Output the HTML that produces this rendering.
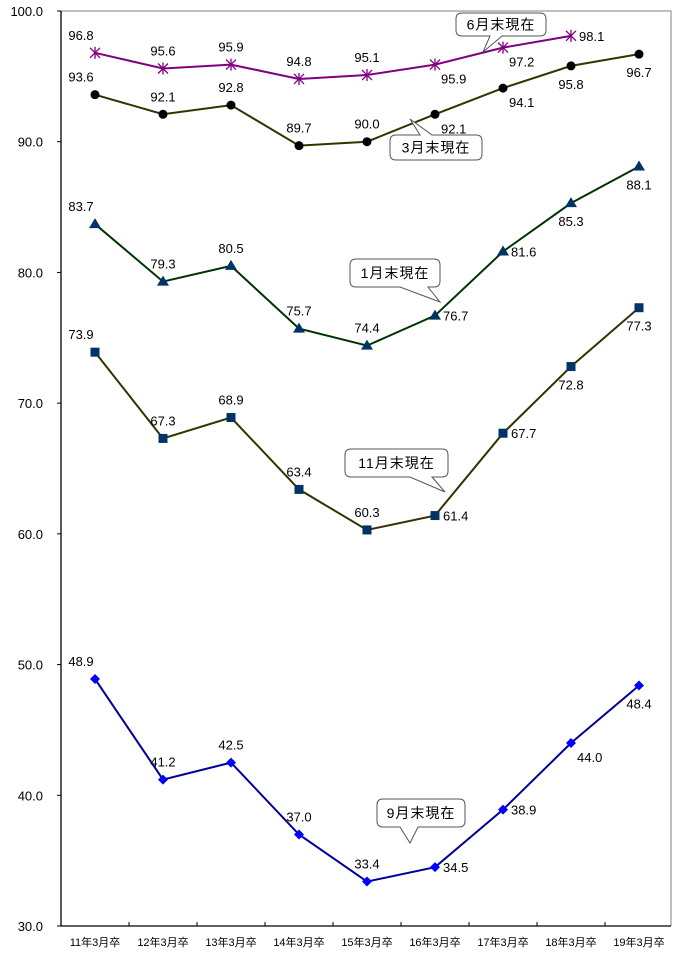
<!DOCTYPE html>
<html><head><meta charset="utf-8">
<style>
html,body{margin:0;padding:0;background:#fff;width:673px;height:958px;overflow:hidden}
svg{display:block}
text{font-family:"Liberation Sans","Noto Sans CJK JP",sans-serif;font-size:13px;fill:#000}
</style></head>
<body>
<svg id="chart" width="673" height="958"></svg>
<script>
const categories = ["11年3月卒","12年3月卒","13年3月卒","14年3月卒","15年3月卒","16年3月卒","17年3月卒","18年3月卒","19年3月卒"];
const yTicks = [30,40,50,60,70,80,90,100];
const juneValues = [96.8,95.6,95.9,94.8,95.1,95.9,97.2,98.1];
const marchValues = [93.6,92.1,92.8,89.7,90.0,92.1,94.1,95.8,96.7];
const janValues = [83.7,79.3,80.5,75.7,74.4,76.7,81.6,85.3,88.1];
const novValues = [73.9,67.3,68.9,63.4,60.3,61.4,67.7,72.8,77.3];
const sepValues = [48.9,41.2,42.5,37.0,33.4,34.5,38.9,44.0,48.4];

const NS="http://www.w3.org/2000/svg";
const svg=document.getElementById('chart');
const L=61,R=671,T=11,B=926,step=68;
const x=i=>L+step*(i+0.5);
const y=v=>B-(v-30)/70*(B-T);
function mk(tag,attrs,parent){const e=document.createElementNS(NS,tag);for(const k in attrs)e.setAttribute(k,attrs[k]);(parent||svg).appendChild(e);return e;}

const frame=mk('path',{d:`M${L},${T}H${R}V${B}`,stroke:'#808080',fill:'none','stroke-width':1});


const yAxis=mk('line',{x1:L,y1:T,x2:L,y2:B,stroke:'#000','stroke-width':1.3});


const xAxis=mk('line',{x1:L,y1:B,x2:R,y2:B,stroke:'#000','stroke-width':1.3});


yTicks.forEach(v=>{
  const t=mk('line',{x1:L-4,y1:y(v),x2:L,y2:y(v),stroke:'#000'});
  
  
  const tl=mk('text',{x:L-18,y:y(v)+5,'text-anchor':'end'});
  tl.textContent=v.toFixed(1);
  
  
});
categories.forEach((c,i)=>{
  if(i>0){const t=mk('line',{x1:L+step*i,y1:B-4,x2:L+step*i,y2:B,stroke:'#000'});
  
  }
  const tl=mk('text',{x:x(i),y:B+20,'text-anchor':'middle'});
  tl.style.fontSize='11px';
  tl.textContent=c;
  
  
});

function marker(type,cx,cy,color,g){
  if(type==='circle')return mk('circle',{cx,cy,r:4.5,fill:color},g);
  if(type==='square')return mk('rect',{x:cx-4.5,y:cy-4.5,width:9,height:9,fill:color},g);
  if(type==='tri')return mk('path',{d:`M${cx},${cy-6}L${cx+6},${cy+4}L${cx-6},${cy+4}Z`,fill:color},g);
  if(type==='diamond')return mk('path',{d:`M${cx},${cy-5}L${cx+5},${cy}L${cx},${cy+5}L${cx-5},${cy}Z`,fill:color},g);
  if(type==='star')return mk('path',{d:`M${cx-5},${cy-5}L${cx+5},${cy+5}M${cx+5},${cy-5}L${cx-5},${cy+5}M${cx},${cy-6}V${cy+6}`,stroke:color,'stroke-width':1.3,fill:'none'},g);
}
function place(code,px,py){
  switch(code){
    case 'al':return [px-14,py-13,'middle'];
    case 'a':return [px,py-13,'middle'];
    case 'r':return [px+8,py+5,'start'];
    case 'br':return [px+6,py+19,'start'];
    case 'b':return [px,py+23,'middle'];
  }
}
const std=['al','a','a','a','a','r','r','b','b'];
function series(name,vals,line,mcol,type,codes){
  const g=mk('g',{});
  
  
  const pl=mk('polyline',{points:vals.map((v,i)=>x(i)+','+y(v)).join(' '),fill:'none',stroke:line,'stroke-width':2},g);
  
  
  vals.forEach((v,i)=>{
    const m=marker(type,x(i),y(v),mcol,g);
    
    
    const [tx,ty,an]=place(codes[i],x(i),y(v));
    const t=mk('text',{x:tx,y:ty,'text-anchor':an},g);
    t.textContent=v.toFixed(1);
    
    
  });
}
series('june-series',juneValues,'#800080','#800080','star',['al','a','a','a','a','br','br','r']);
series('march-series',marchValues,'#333300','#000','circle',['al','a','a','a','a','br','br','b','b']);
series('january-series',janValues,'#003300','#003366','tri',std);
series('november-series',novValues,'#333300','#003366','square',std);
series('september-series',sepValues,'#000099','#0000ff','diamond',['al','a','a','a','a','r','r','br','b']);

function callout(name,label,bx,by,bw,bh,p1,tip,p2){
  const g=mk('g',{});
  
  
  const r=6,bb=by+bh;
  let d;
  if(tip[1]>bb){d=`M${bx+r},${by}H${bx+bw-r}Q${bx+bw},${by} ${bx+bw},${by+r}V${bb-r}Q${bx+bw},${bb} ${bx+bw-r},${bb}H${p2}L${tip[0]},${tip[1]}L${p1},${bb}H${bx+r}Q${bx},${bb} ${bx},${bb-r}V${by+r}Q${bx},${by} ${bx+r},${by}Z`;}
  else{d=`M${bx+r},${by}H${p1}L${tip[0]},${tip[1]}L${p2},${by}H${bx+bw-r}Q${bx+bw},${by} ${bx+bw},${by+r}V${bb-r}Q${bx+bw},${bb} ${bx+bw-r},${bb}H${bx+r}Q${bx},${bb} ${bx},${bb-r}V${by+r}Q${bx},${by} ${bx+r},${by}Z`;}
  mk('path',{d,fill:'#fff',stroke:'#555','stroke-width':1},g);
  const t=mk('text',{x:bx+bw/2,y:by+bh/2+5,'text-anchor':'middle'},g);
  t.style.fontSize='14px';
  t.setAttribute('letter-spacing','1');
  t.textContent=label;
}
callout('june-callout','6月末現在',456,13,90,23,490,[483,52],502);
callout('march-callout','3月末現在',390,135,92,25,420,[410,119],432);
callout('january-callout','1月末現在',350,259,90,28,400,[440,302],428);
callout('november-callout','11月末現在',345,449,103,28,410,[445,492],432);
callout('september-callout','9月末現在',377,799,88,28,400,[410,843],418);
</script>
</body></html>
